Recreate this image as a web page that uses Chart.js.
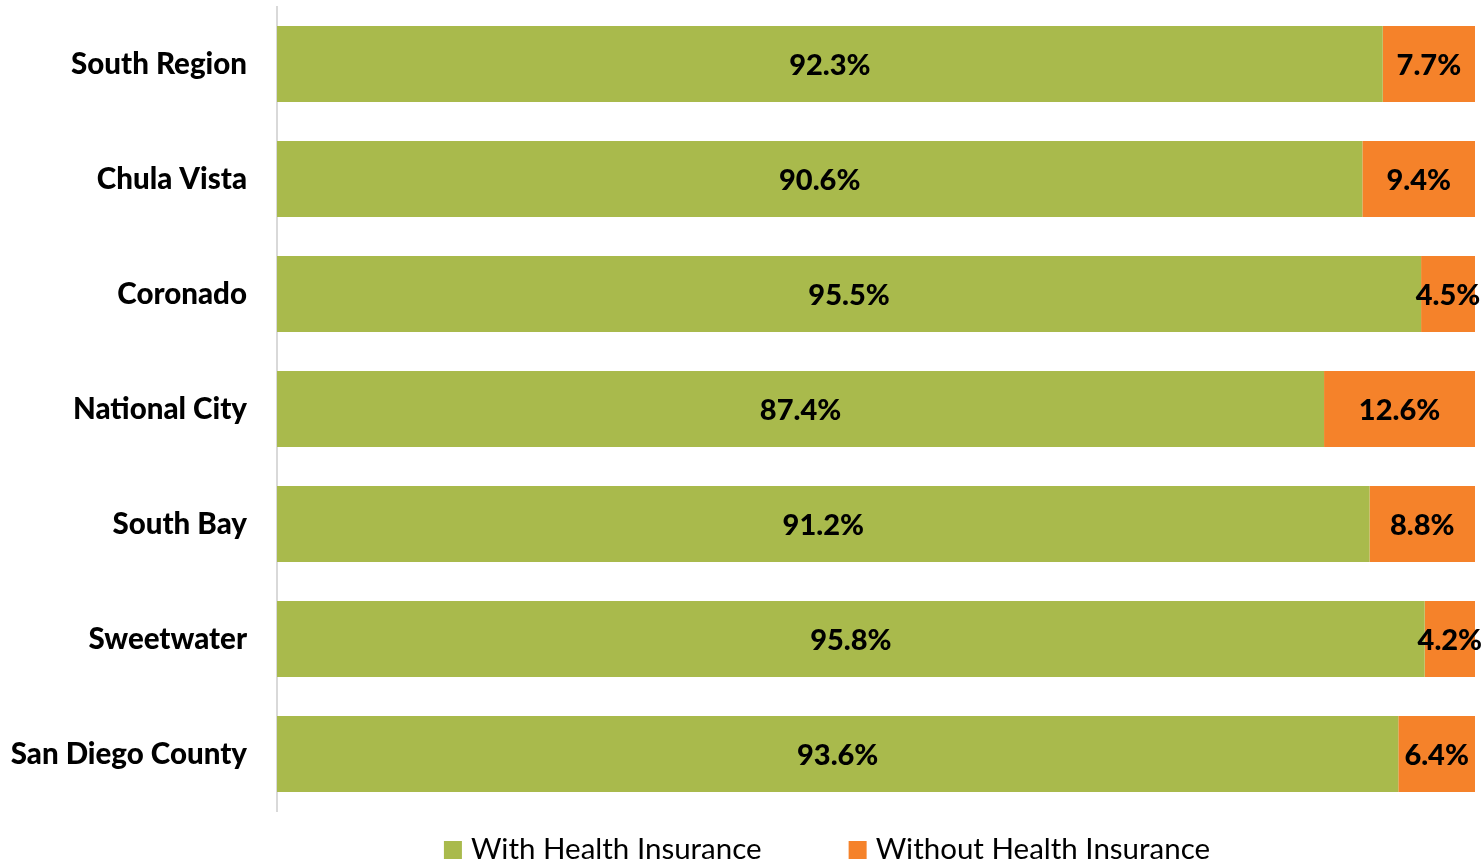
<!DOCTYPE html>
<html>
<head>
<meta charset="utf-8">
<script src="https://cdn.jsdelivr.net/npm/chart.js@4/dist/chart.umd.min.js"></script>
<style>
  html, body { margin: 0; padding: 0; background: #fff; }
  #wrap { width: 1483px; height: 862px; position: relative; }
</style>
</head>
<body>
<div id="wrap"><canvas id="c" width="1483" height="862"></canvas></div>
<script>
const categories = ["South Region", "Chula Vista", "Coronado", "National City", "South Bay", "Sweetwater", "San Diego County"];
const withInsurance = [92.3, 90.6, 95.5, 87.4, 91.2, 95.8, 93.6];
const withoutInsurance = [7.7, 9.4, 4.5, 12.6, 8.8, 4.2, 6.4];
const seriesNames = ["With Health Insurance", "Without Health Insurance"];

const GREEN = "#A9BA4C";
const ORANGE = "#F5822A";
const FONT = "Lato, 'Open Sans', sans-serif";

const valueLabels = {
  id: "valueLabels",
  afterDatasetsDraw(chart) {
    const ctx = chart.ctx;
    ctx.save();
    ctx.fillStyle = "#000";
    ctx.font = "900 29px " + FONT;
    ctx.textAlign = "center";
    ctx.textBaseline = "middle";
    chart.data.datasets.forEach((ds, i) => {
      const meta = chart.getDatasetMeta(i);
      meta.data.forEach((el, j) => {
        const p = el.getProps(["x", "y", "base"], true);
        const cx = (p.x + p.base) / 2;
        ctx.fillText(ds.data[j].toFixed(1) + "%", cx, p.y + 2);
      });
    });
    ctx.restore();
  }
};

const bottomLegend = {
  id: "bottomLegend",
  afterDraw(chart) {
    const ctx = chart.ctx;
    ctx.save();
    ctx.font = "29.5px " + FONT;
    ctx.textBaseline = "middle";
    ctx.textAlign = "left";
    const box = 18, gapText = 9, gapItem = 87;
    const items = chart.data.datasets.map(ds => ({ label: ds.label, color: ds.backgroundColor, w: ctx.measureText(ds.label).width }));
    let total = 0;
    items.forEach((it, i) => { total += box + gapText + it.w + (i < items.length - 1 ? gapItem : 0); });
    let x = 827 - total / 2;
    const yMid = 849;
    items.forEach(it => {
      ctx.fillStyle = it.color;
      ctx.fillRect(x, yMid - box / 2 + 1, box, box);
      x += box + gapText;
      ctx.fillStyle = "#000";
      ctx.fillText(it.label, x, yMid);
      x += it.w + gapItem;
    });
    ctx.restore();
  }
};

new Chart(document.getElementById("c"), {
  type: "bar",
  data: {
    labels: categories,
    datasets: [
      { label: seriesNames[0], data: withInsurance, backgroundColor: GREEN, barPercentage: 0.661, categoryPercentage: 1 },
      { label: seriesNames[1], data: withoutInsurance, backgroundColor: ORANGE, barPercentage: 0.661, categoryPercentage: 1 }
    ]
  },
  options: {
    indexAxis: "y",
    responsive: false,
    animation: false,
    events: [],
    layout: { padding: { top: 6.5, right: 8, bottom: 50.5, left: 0 } },
    plugins: { legend: { display: false }, tooltip: { enabled: false } },
    scales: {
      x: { stacked: true, min: 0, max: 100, display: false },
      y: {
        stacked: true,
        grid: { display: false, drawTicks: false },
        border: { display: true, color: "#D9D9D9", width: 2 },
        afterFit(scale) { scale.width = 277; scale.paddingTop = 0; scale.paddingBottom = 0; },
        ticks: { color: "#000", padding: 30, font: { family: FONT, weight: "900", size: 29.5 } }
      }
    }
  },
  plugins: [valueLabels, bottomLegend]
});
</script>
</body>
</html>
